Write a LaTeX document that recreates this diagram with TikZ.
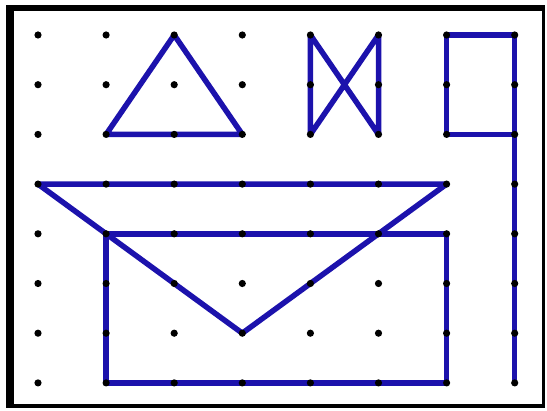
\documentclass[tikz,border=0pt]{standalone}
\definecolor{penblue}{RGB}{28,18,172}
\tikzset{
  frame/.style={draw=black},
  shape line/.style={draw=penblue, line width=5.5pt, line join=round, line cap=round},
  grid dot/.style={fill=black}
}
\begin{document}
\begin{tikzpicture}[x=1pt,y=-1pt]
\useasboundingbox (0,0) rectangle (547,411);
% grid coordinates
\foreach \i in {0,...,7} {
  \foreach \j in {0,...,7} {
    \coordinate (p-\i-\j) at ({38+68.1*\i},{35+49.7*\j});
  }
}
% frame
\coordinate (fTL) at (10,8);
\coordinate (fTR) at (543,8);
\coordinate (fBR) at (543,406);
\coordinate (fBL) at (10,406);
\draw[frame, line width=6pt] ([xshift=-4pt]fTL) -- ([xshift=1.5pt]fTR);
\draw[frame, line width=3pt] (fTR) -- ([yshift=2pt]fBR);
\draw[frame, line width=4pt] ([xshift=1.5pt]fBR) -- ([xshift=-4pt]fBL);
\draw[frame, line width=8pt] ([yshift=2pt]fBL) -- ([yshift=-3pt]fTL);
% small triangle
\draw[shape line] (p-2-0) -- (p-1-2) -- (p-3-2) -- cycle;
% bow tie
\draw[shape line] (p-4-0) -- (p-4-2) -- (p-5-0) -- (p-5-2) -- cycle;
% tall rectangle with tail
\draw[shape line] (p-7-2) -- (p-6-2) -- (p-6-0) -- (p-7-0) -- (p-7-7);
% big triangle
\draw[shape line] (p-0-3) -- (p-6-3) -- (p-3-6) -- cycle;
% big rectangle
\draw[shape line] (p-1-4) -- (p-6-4) -- (p-6-7) -- (p-1-7) -- cycle;
% dots
\foreach \i in {0,...,7} {
  \foreach \j in {0,...,7} {
    \fill[grid dot] (p-\i-\j) circle (3.6pt);
  }
}
\end{tikzpicture}
\end{document}
